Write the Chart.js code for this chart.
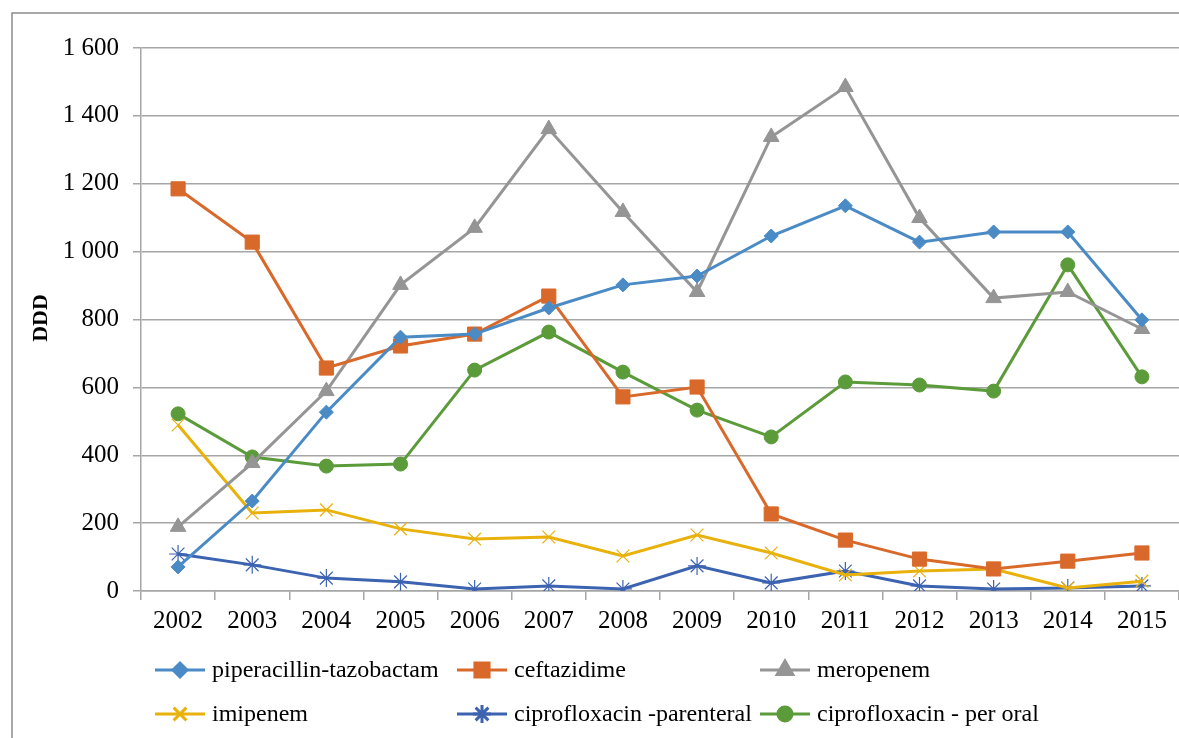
<!DOCTYPE html>
<html><head><meta charset="utf-8">
<script src="https://cdn.jsdelivr.net/npm/chart.js@4/dist/chart.umd.min.js"></script>
<style>html,body{margin:0;padding:0;background:#fff;overflow:hidden;}#wrap{width:1179px;height:738px;position:relative;overflow:hidden;}</style>
</head><body><div id="wrap"><canvas id="c" width="1190" height="738"></canvas></div>
<script>
const years = ['2002','2003','2004','2005','2006','2007','2008','2009','2010','2011','2012','2013','2014','2015'];
const piperacillinTazobactam = [71,265,527,748,757,834,902,928,1046,1135,1028,1058,1058,799];
const ceftazidime = [1185,1028,657,722,757,869,572,601,227,150,94,65,88,112];
const meropenem = [189,377,589,902,1070,1361,1117,881,1338,1485,1099,863,881,772];
const imipenem = [489,230,239,183,153,159,103,165,112,47,59,65,9,29];
const ciproParenteral = [109,77,38,27,6,15,6,74,24,59,15,6,9,15];
const ciproPerOral = [522,395,368,374,651,763,645,533,454,616,607,589,961,631];
const seriesNames = ['piperacillin-tazobactam','ceftazidime','meropenem','imipenem','ciprofloxacin -parenteral','ciprofloxacin - per oral'];
const yTickValues = [0,200,400,600,800,1000,1200,1400,1600];
const yAxisTitle = 'DDD';

const FONT = "'Liberation Serif','Times New Roman',serif";
const styles = [
  {c:'#4A8BC6', s:'rectRot', r:7},
  {c:'#D9692A', s:'rect', r:10},
  {c:'#959595', s:'triangle', r:9},
  {c:'#E8B10C', s:'crossRot', r:9},
  {c:'#3C63B0', s:'star', r:9},
  {c:'#5B9B3A', s:'circle', r:7}
];
const seriesData = [piperacillinTazobactam, ceftazidime, meropenem, imipenem, ciproParenteral, ciproPerOral];
const datasets = seriesData.map((d,i)=>({
  label: seriesNames[i], data: d, borderColor: styles[i].c, backgroundColor: styles[i].c,
  borderWidth: 3, pointStyle: styles[i].s, pointRadius: styles[i].r, pointBorderWidth: (styles[i].s==='crossRot'||styles[i].s==='star')?1.2:1,
  pointBorderColor: styles[i].c, pointBackgroundColor: styles[i].c, tension: 0, fill:false
}));

const framePlugin = {
  id:'frame',
  beforeDraw(chart){
    const ctx = chart.ctx; ctx.save();
    ctx.fillStyle='#fff'; ctx.fillRect(0,0,chart.width,chart.height);
    ctx.strokeStyle='#8c8c8c'; ctx.lineWidth=1.5;
    ctx.strokeRect(12,13,1250,760);
    ctx.restore();
  },
  afterDraw(chart){
    const ctx = chart.ctx; ctx.save();
    ctx.fillStyle='#000'; ctx.font = "bold 22px "+FONT;
    ctx.translate(41,318); ctx.rotate(-Math.PI/2); ctx.textAlign='center'; ctx.textBaseline='middle';
    ctx.fillText(yAxisTitle,0,0);
    ctx.restore();
    const cols=[155,457,760], rows=[670,714];
    ctx.save();
    chart.data.datasets.forEach((ds,i)=>{
      const x=cols[i%3], y=rows[Math.floor(i/3)];
      ctx.strokeStyle=ds.borderColor; ctx.lineWidth=3;
      ctx.beginPath(); ctx.moveTo(x,y); ctx.lineTo(x+50,y); ctx.stroke();
      ctx.fillStyle=ds.borderColor; ctx.strokeStyle=ds.borderColor;
      Chart.helpers.drawPoint(ctx,{pointStyle:ds.pointStyle, radius:ds.pointRadius, borderWidth:ds.pointBorderWidth, rotation:0}, x+25, y);
      ctx.fillStyle='#000'; ctx.font="24px "+FONT; ctx.textBaseline='middle'; ctx.textAlign='left';
      ctx.fillText(ds.label, x+57, y+1);
    });
    ctx.restore();
  }
};

new Chart(document.getElementById('c'), {
  type:'line',
  data:{labels:years, datasets},
  options:{
    responsive:false, animation:false,
    layout:{padding:{left:0, top:48, right:0, bottom:0}},
    plugins:{legend:{display:false}, tooltip:{enabled:false}},
    scales:{
      x:{
        offset:true,
        grid:{offset:true, drawOnChartArea:false, drawTicks:true, tickLength:9, color:'#a6a6a6', lineWidth:1.5},
        border:{display:true, color:'#a6a6a6', width:1.5},
        ticks:{color:'#000', font:{family:FONT, size:25}, padding:6, maxRotation:0, autoSkip:false},
        afterFit(s){ s.height = 147; }
      },
      y:{
        min:0, max:1600,
        afterBuildTicks(s){ s.ticks = yTickValues.map(v=>({value:v})); },
        grid:{color:'#a6a6a6', lineWidth:1.5, drawTicks:true, tickLength:8},
        border:{display:true, color:'#a6a6a6', width:1.5},
        ticks:{color:'#000', font:{family:FONT, size:25}, padding:14,
          callback:(v)=> v>=1000 ? Math.floor(v/1000)+' '+String(v%1000).padStart(3,'0') : String(v)},
        afterFit(s){ s.width = 141; }
      }
    }
  },
  plugins:[framePlugin]
});
</script></body></html>
